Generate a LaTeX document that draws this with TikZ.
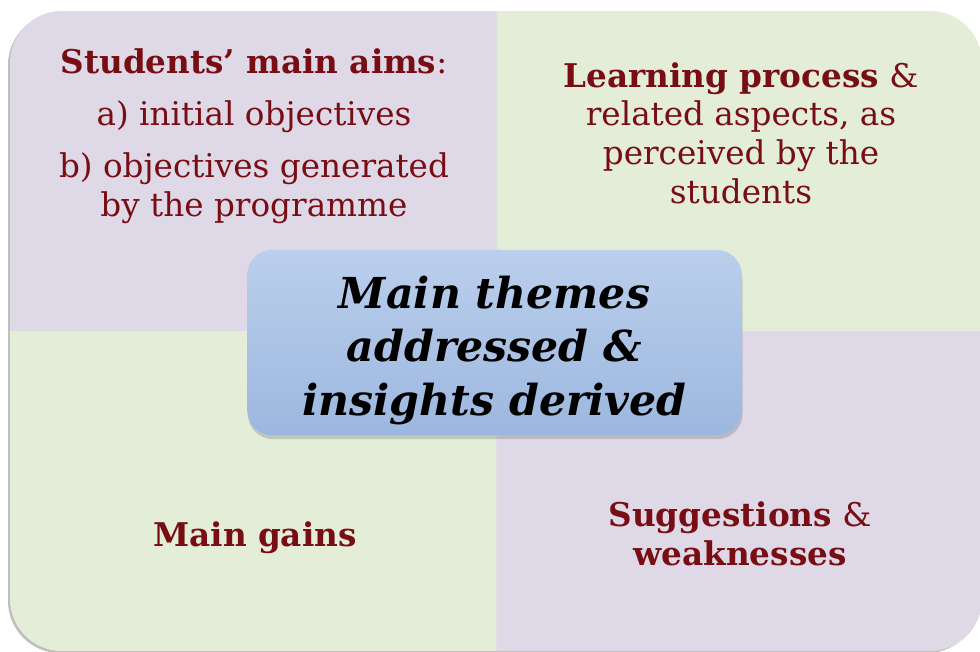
\documentclass[tikz,border=0pt]{standalone}
\usepackage{fontspec}
\setmainfont{DejaVu Serif}
\usepackage{tikz}
\usetikzlibrary{calc,positioning,shadows}

\definecolor{quadlilac}{RGB}{223,217,231}
\definecolor{quadsage}{RGB}{227,237,216}
\definecolor{themered}{RGB}{120,14,20}
\definecolor{hubtop}{RGB}{187,207,236}
\definecolor{hubbottom}{RGB}{156,183,223}

\begin{document}
\begin{tikzpicture}[x=0.75pt,y=-0.75pt,
    every node/.style={text=themered,align=center,
      font=\fontsize{24.5}{29}\selectfont},
    hub/.style={rounded corners=19pt,top color=hubtop,bottom color=hubbottom,
      minimum width=371pt,minimum height=139pt,
      drop shadow={shadow xshift=0.5pt,shadow yshift=-3pt,opacity=0.35}},
    hubtext/.style={text=black,font=\fontsize{32}{40}\selectfont\bfseries\itshape}]
  \useasboundingbox (0,0) rectangle (980,651);
  % soft edge under the frame
  \fill[black!25,rounded corners=39pt] (8,13) rectangle (979,653);
  \begin{scope}
    \clip[rounded corners=39pt] (10,11) rectangle (982,651);
    \fill[quadlilac] (10,11) rectangle (497,331);
    \fill[quadsage] (497,11) rectangle (982,331);
    \fill[quadsage] (10,331) rectangle (497,651);
    \fill[quadlilac] (497,331) rectangle (982,651);
    \draw[black!12,line width=1pt] (497,11) -- (497,651);
  \end{scope}

  \node (aims) at (254,136) {\textbf{Students’ main aims}:\\[10pt]
    a) initial objectives\\[10pt]
    b) objectives generated\\by the programme};
  \node (process) at (741,133) {\textbf{Learning process} \&\\related aspects, as\\
    perceived by the\\students};
  \node (gains) at (255,538) {\textbf{Main gains}};
  \node (suggest) at (740,534) {\textbf{Suggestions} \&\\\textbf{weaknesses}};

  \node[hub] (hub) at (494.5,342.5) {};
  \node[hubtext] (themes) at ($(hub.center)+(0,8)$)
    {Main themes\\addressed \&\\insights derived};
\end{tikzpicture}
\end{document}
